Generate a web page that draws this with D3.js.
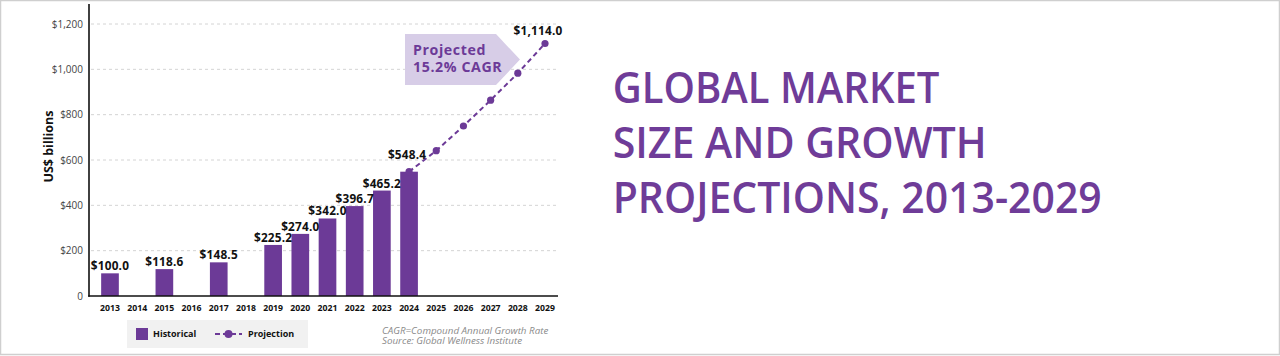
<!DOCTYPE html>
<html>
<head>
<meta charset="utf-8">
<script src="https://cdn.jsdelivr.net/npm/d3@7"></script>
<style>
  html, body { margin: 0; padding: 0; background: #fff; }
  svg { display: block; }
  text { font-family: "Open Sans", "DejaVu Sans", sans-serif; }
</style>
</head>
<body>
<svg id="chart" width="1280" height="356"></svg>
<script>
// ---- data ----
const years = ["2013","2014","2015","2016","2017","2018","2019","2020","2021","2022","2023","2024","2025","2026","2027","2028","2029"];
const histYears = ["2013","2015","2017","2019","2020","2021","2022","2023","2024"];
const histValues = [100.0, 118.6, 148.5, 225.2, 274.0, 342.0, 396.7, 465.2, 548.4];
const projYears = ["2024","2025","2026","2027","2028","2029"];
const projValues = [548.4, 641, 750, 864, 983, 1114.0];
const projLabelYears = ["2024","2029"];
const yTicks = [0, 200, 400, 600, 800, 1000, 1200];
const titleLines = ["GLOBAL MARKET", "SIZE AND GROWTH", "PROJECTIONS, 2013-2029"];
const annotationLines = ["Projected", "15.2% CAGR"];
const noteLines = ["CAGR=Compound Annual Growth Rate", "Source: Global Wellness Institute"];
const legendLabels = ["Historical", "Projection"];
const yAxisTitle = "US$ billions";

const purple = "#6c3a97";
const svg = d3.select("#chart");

// frame
svg.append("rect").attr("x", 0.5).attr("y", 0.5).attr("width", 1279).attr("height", 354)
  .attr("fill", "#fff").attr("stroke", "#cfcfcf").attr("stroke-width", 1.5);

const x = d3.scaleBand().domain(years).range([96.4, 558.6]).paddingInner(0.35).paddingOuter(0.175);
const y = d3.scaleLinear().domain([0, 1200]).range([296, 24]);
const cx = d => x(d) + x.bandwidth() / 2;

// gridlines
svg.append("g").selectAll("line").data(yTicks.filter(t => t > 0)).join("line")
  .attr("x1", 91).attr("x2", 558).attr("y1", d => y(d)).attr("y2", d => y(d))
  .attr("stroke", "#d4d4d4").attr("stroke-width", 1).attr("stroke-dasharray", "3,3");

// y axis
const yAxis = d3.axisLeft(y).tickValues(yTicks).tickSize(0).tickPadding(6)
  .tickFormat(d => d === 0 ? "0" : "$" + d3.format(",")(d));
const gy = svg.append("g").attr("transform", "translate(89,0)").call(yAxis);
gy.select(".domain").remove();
gy.selectAll("text").attr("font-size", 10).attr("fill", "#444").attr("font-family", "'Open Sans', sans-serif");
svg.append("line").attr("x1", 89).attr("x2", 89).attr("y1", 4).attr("y2", 296.8)
  .attr("stroke", "#111").attr("stroke-width", 1.6);

// y title
svg.append("text").attr("transform", "translate(52.5,146.5) rotate(-90)")
  .attr("text-anchor", "middle").attr("font-size", 12.5).attr("font-weight", 700).attr("fill", "#111")
  .text(yAxisTitle);

// bars
const hist = histYears.map((yr, i) => ({ yr, v: histValues[i] }));
svg.append("g").selectAll("rect").data(hist).join("rect")
  .attr("x", d => x(d.yr)).attr("width", x.bandwidth())
  .attr("y", d => y(d.v)).attr("height", d => y(0) - y(d.v))
  .attr("fill", purple);

// bar labels (except 2024 which is labeled via projection)
svg.append("g").selectAll("text").data(hist.filter(d => d.yr !== "2024")).join("text")
  .attr("x", d => cx(d.yr)).attr("y", d => y(d.v) - 3)
  .attr("text-anchor", "middle").attr("font-size", 11.8).attr("font-weight", 700).attr("fill", "#111")
  .attr("letter-spacing", 0.2)
  .text(d => "$" + d.v.toFixed(1));

// x axis
const xAxis = d3.axisBottom(x).tickSize(0).tickPadding(9);
const gx = svg.append("g").attr("transform", "translate(0,296)").call(xAxis);
gx.select(".domain").remove();
gx.selectAll("text").attr("font-size", 8.7).attr("font-weight", 700).attr("fill", "#111")
  .attr("font-family", "'Open Sans', sans-serif");
svg.append("line").attr("x1", 88.2).attr("x2", 558).attr("y1", 296).attr("y2", 296)
  .attr("stroke", "#111").attr("stroke-width", 1.6);

// annotation pentagon
const ax0 = 405, ax1 = 496, ax2 = 520, ay0 = 34, ay1 = 85;
svg.append("path")
  .attr("d", `M${ax0},${ay0}L${ax1},${ay0}L${ax2},${(ay0 + ay1) / 2}L${ax1},${ay1}L${ax0},${ay1}Z`)
  .attr("fill", "#d7cde7");
svg.append("g").selectAll("text").data(annotationLines).join("text")
  .attr("x", 413).attr("y", (d, i) => 54.5 + i * 17.5)
  .attr("font-size", 14.2).attr("font-weight", 700).attr("fill", purple)
  .attr("letter-spacing", 0.6)
  .text(d => d);

// projection line
const proj = projYears.map((yr, i) => ({ yr, v: projValues[i] }));
svg.append("path").datum(proj)
  .attr("d", d3.line().x(d => cx(d.yr)).y(d => y(d.v)))
  .attr("fill", "none").attr("stroke", purple).attr("stroke-width", 2).attr("stroke-dasharray", "5,3.5");
svg.append("g").selectAll("circle").data(proj).join("circle")
  .attr("cx", d => cx(d.yr)).attr("cy", d => y(d.v)).attr("r", 3.6).attr("fill", purple);

svg.append("g").selectAll("text").data(proj.filter(d => projLabelYears.includes(d.yr))).join("text")
  .attr("x", d => cx(d.yr) + (d.yr === "2024" ? -2 : -7))
  .attr("y", d => y(d.v) - (d.yr === "2024" ? 13 : 8))
  .attr("text-anchor", "middle").attr("font-size", 11.8).attr("font-weight", 700).attr("fill", "#111")
  .attr("letter-spacing", 0.2)
  .text(d => "$" + d3.format(",.1f")(d.v));

// legend
svg.append("rect").attr("x", 127).attr("y", 320).attr("width", 181).attr("height", 28).attr("fill", "#f1f1f1");
svg.append("rect").attr("x", 136).attr("y", 328).attr("width", 12).attr("height", 12).attr("fill", purple);
svg.append("line").attr("x1", 215).attr("x2", 242).attr("y1", 334).attr("y2", 334)
  .attr("stroke", purple).attr("stroke-width", 2).attr("stroke-dasharray", "5,3");
svg.append("circle").attr("cx", 228.5).attr("cy", 334).attr("r", 4).attr("fill", purple);
svg.append("g").selectAll("text").data(legendLabels).join("text")
  .attr("x", (d, i) => i === 0 ? 153 : 248).attr("y", 337.3)
  .attr("font-size", 9).attr("font-weight", 700).attr("fill", "#111").text(d => d);

// notes
svg.append("g").selectAll("text").data(noteLines).join("text")
  .attr("x", 382).attr("y", (d, i) => 333.5 + i * 10.8)
  .attr("font-size", 9.8).attr("font-style", "italic").attr("fill", "#8a8a8a").text(d => d);

// title
const titleWidths = [326.7, 374, 489];
svg.append("g").selectAll("text").data(titleLines).join("text")
  .attr("x", 612.7).attr("y", (d, i) => 103.3 + i * 55)
  .attr("font-size", 43.5).attr("font-weight", 600).attr("fill", "#6f3c98")
  .attr("font-family", "'Open Sans', sans-serif")
  .attr("textLength", (d, i) => titleWidths[i]).attr("lengthAdjust", "spacingAndGlyphs")
  .text(d => d);
</script>
</body>
</html>
